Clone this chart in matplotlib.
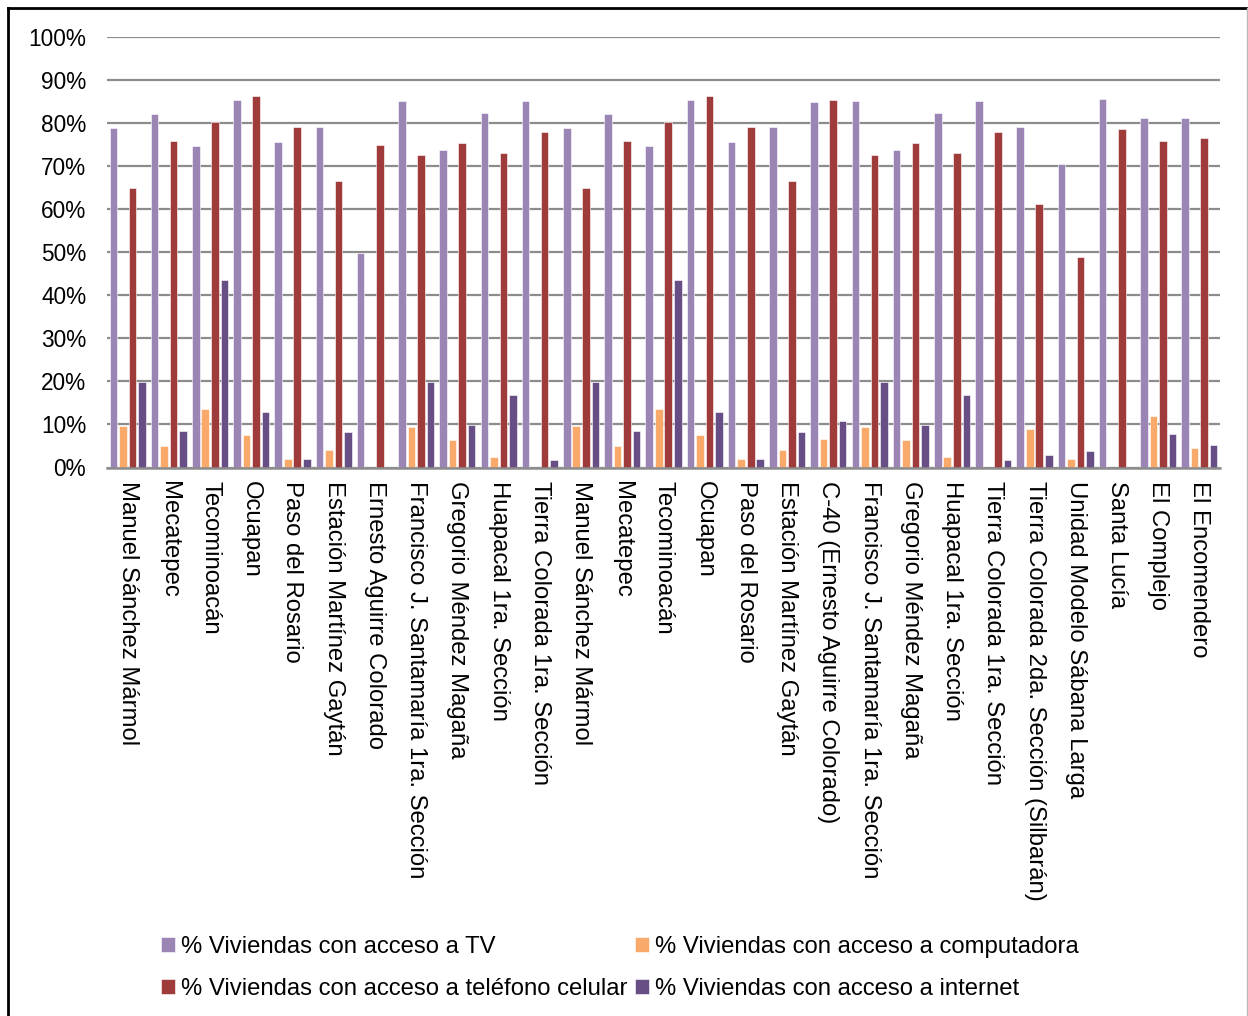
import matplotlib
matplotlib.use("Agg")
import matplotlib.pyplot as plt
from matplotlib.lines import Line2D
import numpy as np

plt.rcParams['font.family'] = ['Liberation Sans', 'DejaVu Sans']

localidades = [
    "Manuel Sánchez Mármol", "Mecatepec", "Tecominoacán", "Ocuapan",
    "Paso del Rosario", "Estación Martínez Gaytán", "Ernesto Aguirre Colorado",
    "Francisco J. Santamaría 1ra. Sección", "Gregorio Méndez Magaña",
    "Huapacal 1ra. Sección", "Tierra Colorada 1ra. Sección",
    "Manuel Sánchez Mármol", "Mecatepec", "Tecominoacán", "Ocuapan",
    "Paso del Rosario", "Estación Martínez Gaytán",
    "C-40 (Ernesto Aguirre Colorado)", "Francisco J. Santamaría 1ra. Sección",
    "Gregorio Méndez Magaña", "Huapacal 1ra. Sección",
    "Tierra Colorada 1ra. Sección", "Tierra Colorada 2da. Sección (Silbarán)",
    "Unidad Modelo Sábana Larga", "Santa Lucía", "El Complejo", "El Encomendero",
]

tv = [78.9, 82.0, 74.6, 85.4, 75.5, 79.1, 49.9, 85.1, 73.7, 82.4, 85.2,
      78.9, 82.0, 74.6, 85.4, 75.5, 79.1, 85.0, 85.1, 73.7, 82.4, 85.2,
      79.0, 70.5, 85.7, 81.3, 81.1]
computadora = [9.6, 5.0, 13.5, 7.5, 1.9, 4.1, 0.0, 9.3, 6.4, 2.5, 0.0,
               9.6, 5.0, 13.5, 7.5, 1.9, 4.1, 6.7, 9.3, 6.4, 2.5, 0.0,
               8.9, 1.9, 0.0, 12.0, 4.5]
celular = [65.0, 75.8, 80.3, 86.4, 79.2, 66.6, 75.0, 72.7, 75.4, 73.1, 77.9,
           65.0, 75.8, 80.3, 86.4, 79.2, 66.6, 85.4, 72.7, 75.4, 73.1, 77.9,
           61.1, 48.9, 78.6, 75.8, 76.6]
internet = [19.9, 8.5, 43.5, 12.9, 1.9, 8.3, 0.0, 19.9, 9.8, 16.8, 1.8,
            19.9, 8.5, 43.5, 12.9, 1.9, 8.3, 10.8, 19.9, 9.8, 16.8, 1.8,
            2.9, 3.9, 0.0, 7.7, 5.2]

series = [
    ("% Viviendas con acceso a TV", tv, "#9B85B5"),
    ("% Viviendas con acceso a computadora", computadora, "#F9AA6B"),
    ("% Viviendas con acceso a teléfono celular", celular, "#A03B3B"),
    ("% Viviendas con acceso a internet", internet, "#674F86"),
]

FS = 17.2

fig = plt.figure(figsize=(12.48, 10.16), dpi=100)
W, H = 1248, 1016
ax = fig.add_axes([107 / W, 1 - 467.5 / H, (1220 - 107) / W, (467.5 - 37) / H])

x = np.arange(len(localidades))
pitch = 0.2306
width = 0.185
for k, (name, vals, color) in enumerate(series):
    ax.bar(x + (k - 1.5) * pitch, vals, width=width, color=color,
           edgecolor="#FFFFFF", linewidth=0.4, label=name, zorder=3)

ax.set_xlim(-0.5, len(localidades) - 0.5)
ax.set_ylim(0, 100)
ax.set_yticks(np.arange(0, 101, 10))
ax.set_yticklabels([f"{v}%" for v in range(0, 101, 10)], fontsize=16.3)
ax.yaxis.grid(True, color="#8C8C8C", linewidth=1.6, zorder=0)
ax.set_axisbelow(True)
ax.tick_params(axis="y", length=0, pad=15)
ax.set_xticks(x)
ax.set_xticklabels(localidades, rotation=270, fontsize=FS, va="top", ha="center",
                   rotation_mode="default")
ax.tick_params(axis="x", length=0, pad=10)
for s in ("top", "right", "left"):
    ax.spines[s].set_visible(False)
ax.spines["bottom"].set_color("#8C8C8C")
ax.spines["bottom"].set_linewidth(1.8)
ax.spines["bottom"].set_zorder(4)

handles, labels = ax.get_legend_handles_labels()
order = [0, 2, 1, 3]
leg = fig.legend([handles[i] for i in order], [labels[i] for i in order],
                 ncol=2, loc="center left",
                 bbox_to_anchor=(161 / W, 1 - 968 / H),
                 frameon=False, fontsize=FS,
                 handlelength=0.6, handleheight=0.6, handletextpad=0.25,
                 columnspacing=0.3, labelspacing=0.82, borderpad=0,
                 borderaxespad=0)

# outer frame
fig.add_artist(Line2D([8 / W, 8 / W], [0, 1 - 8 / H], color="black", linewidth=2,
                      transform=fig.transFigure))
fig.add_artist(Line2D([8 / W, 1247 / W], [1 - 8 / H, 1 - 8 / H], color="black",
                      linewidth=2, transform=fig.transFigure))
fig.add_artist(Line2D([1246.5 / W, 1246.5 / W], [0, 1 - 8 / H], color="#BBBBBB",
                      linewidth=1, transform=fig.transFigure))

fig.savefig("out.png", dpi=100)
